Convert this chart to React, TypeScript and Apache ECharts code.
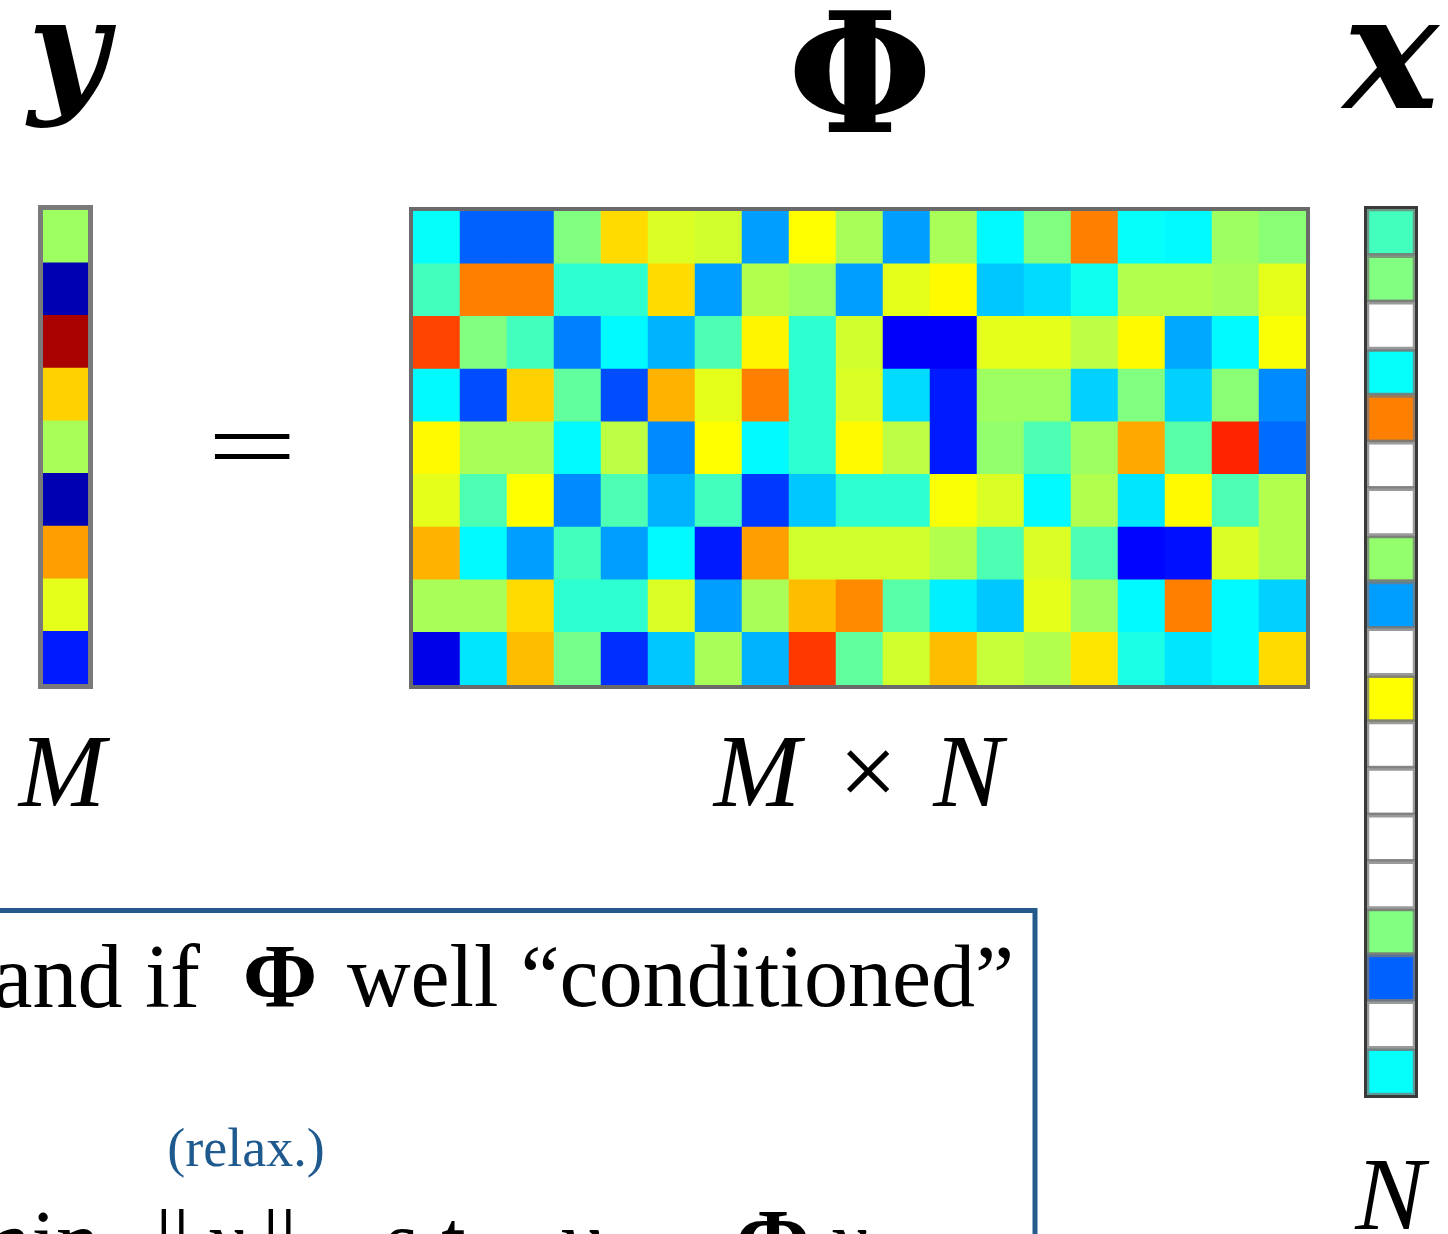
import React, { useEffect, useRef } from "react";
import * as echarts from "echarts";

// Jet colour map stops (value 0 -> 1)
const jetStops = ["#00008F", "#0000FF", "#0080FF", "#00FFFF", "#80FF80", "#FFFF00", "#FF8000", "#FF0000", "#800000"];

// measurement vector y (M = 9)
const yValues = [0.53, 0.04, 0.96, 0.67, 0.54, 0.04, 0.72, 0.6, 0.15];

// sensing matrix Phi (M x N = 9 x 19), row by row
const phiRow0 = [0.38, 0.22, 0.22, 0.5, 0.66, 0.59, 0.58, 0.28, 0.625, 0.54, 0.28, 0.54, 0.37, 0.5, 0.75, 0.38, 0.37, 0.53, 0.51];
const phiRow1 = [0.44, 0.75, 0.75, 0.42, 0.42, 0.66, 0.28, 0.55, 0.53, 0.28, 0.6, 0.63, 0.32, 0.34, 0.39, 0.55, 0.55, 0.54, 0.6];
const phiRow2 = [0.81, 0.5, 0.44, 0.25, 0.37, 0.3, 0.45, 0.635, 0.42, 0.58, 0.12, 0.12, 0.6, 0.6, 0.56, 0.63, 0.29, 0.37, 0.62];
const phiRow3 = [0.37, 0.2, 0.67, 0.47, 0.2, 0.7, 0.6, 0.75, 0.42, 0.59, 0.34, 0.15, 0.53, 0.53, 0.33, 0.5, 0.33, 0.51, 0.26];
const phiRow4 = [0.63, 0.54, 0.54, 0.37, 0.56, 0.26, 0.625, 0.37, 0.42, 0.63, 0.56, 0.15, 0.52, 0.45, 0.53, 0.71, 0.46, 0.84, 0.23];
const phiRow5 = [0.6, 0.45, 0.625, 0.26, 0.45, 0.3, 0.44, 0.18, 0.32, 0.42, 0.42, 0.62, 0.59, 0.37, 0.55, 0.35, 0.63, 0.45, 0.55];
const phiRow6 = [0.7, 0.37, 0.28, 0.44, 0.28, 0.37, 0.15, 0.72, 0.58, 0.58, 0.58, 0.55, 0.45, 0.59, 0.45, 0.13, 0.14, 0.59, 0.55];
const phiRow7 = [0.54, 0.54, 0.66, 0.42, 0.42, 0.59, 0.28, 0.54, 0.69, 0.74, 0.46, 0.36, 0.32, 0.6, 0.53, 0.37, 0.75, 0.37, 0.33];
const phiRow8 = [0.1, 0.35, 0.69, 0.49, 0.17, 0.32, 0.54, 0.3, 0.82, 0.47, 0.58, 0.69, 0.57, 0.55, 0.65, 0.4, 0.35, 0.37, 0.66];
const phiRows = [phiRow0, phiRow1, phiRow2, phiRow3, phiRow4, phiRow5, phiRow6, phiRow7, phiRow8];

// sparse signal x (N = 19), null = zero entry (drawn white)
const xValues = [0.44, 0.5, null, 0.38, 0.75, null, null, 0.52, 0.28, null, 0.625, null, null, null, null, 0.5, 0.22, null, 0.38];

const idx = (n: number) => Array.from({ length: n }, (_, i) => String(i));

function txt(text: string, x: number, y: number, o: any = {}) {
  const el: any = {
    type: "text",
    x,
    y,
    z: 200,
    style: {
      text,
      fill: o.fill || "#000",
      fontSize: o.size || 88,
      fontFamily: o.family || "Liberation Serif",
      fontWeight: o.weight || "normal",
      fontStyle: o.style || "normal",
      align: o.align || "center",
      textAlign: o.align || "center",
      verticalAlign: "middle",
      textVerticalAlign: "middle",
    },
  };
  if (o.scaleX) el.scaleX = o.scaleX;
  if (o.scaleY) el.scaleY = o.scaleY;
  return el;
}

export default function App() {
  const ref = useRef<HTMLDivElement>(null);
  useEffect(() => {
    document.body.style.margin = "0";
    const chart = echarts.init(ref.current!, null, { renderer: "svg" });
    const yData = yValues.map((v, r) => [0, r, v]);
    const phiData = phiRows.flatMap((row, r) => row.map((v, c) => [c, r, v]));
    const xData: any[] = [];
    const xZeroData: any[] = [];
    xValues.forEach((v, r) => {
      if (v === null) xZeroData.push([0, r, 0]);
      else xData.push([0, r, v]);
    });

    const hiddenCat = (gridIndex: number, n: number, inverse = false) => ({
      type: "category",
      gridIndex,
      data: idx(n),
      show: false,
      inverse,
    });

    const xCellBorder = { borderWidth: 5, borderColor: "rgba(120,120,120,0.75)" };

    chart.setOption({
      animation: false,
      backgroundColor: "#ffffff",
      grid: [
        { left: 43, top: 210, width: 45, height: 474 },
        { left: 413, top: 211, width: 893, height: 474 },
        { left: 1367, top: 209, width: 48, height: 886 },
      ],
      xAxis: [hiddenCat(0, 1), hiddenCat(1, 19), hiddenCat(2, 1)],
      yAxis: [hiddenCat(0, 9, true), hiddenCat(1, 9, true), hiddenCat(2, 19, true)],
      visualMap: [
        {
          show: false,
          type: "continuous",
          min: 0,
          max: 1,
          seriesIndex: [0, 1, 2],
          inRange: { color: jetStops },
        },
        {
          show: false,
          type: "continuous",
          min: 0,
          max: 1,
          seriesIndex: 3,
          inRange: { color: ["#ffffff", "#ffffff"] },
        },
      ],
      series: [
        {
          type: "heatmap",
          xAxisIndex: 0,
          yAxisIndex: 0,
          data: yData,
          itemStyle: { borderWidth: 0 },
          emphasis: { disabled: true },
        },
        {
          type: "heatmap",
          xAxisIndex: 1,
          yAxisIndex: 1,
          data: phiData,
          itemStyle: { borderWidth: 0 },
          emphasis: { disabled: true },
        },
        {
          type: "heatmap",
          xAxisIndex: 2,
          yAxisIndex: 2,
          data: xData,
          itemStyle: xCellBorder,
          emphasis: { disabled: true },
        },
        {
          type: "heatmap",
          xAxisIndex: 2,
          yAxisIndex: 2,
          data: xZeroData,
          itemStyle: xCellBorder,
          emphasis: { disabled: true },
        },
      ],
      graphic: [
        // frames
        { type: "rect", z: 150, shape: { x: 40.5, y: 207.5, width: 50, height: 479 }, style: { fill: "none", stroke: "#7a7a7a", lineWidth: 5 } },
        { type: "rect", z: 150, shape: { x: 411, y: 209, width: 897, height: 478 }, style: { fill: "none", stroke: "#6a6a6a", lineWidth: 4 } },
        { type: "rect", z: 150, shape: { x: 1365.5, y: 207.5, width: 51, height: 889 }, style: { fill: "none", stroke: "#3a3a3a", lineWidth: 3 } },
        // headings
        txt("y", 68, 48, { size: 138, family: "DejaVu Serif", weight: "bold", style: "italic" }),
        txt("Φ", 860, 73, { size: 166, family: "DejaVu Serif", weight: "bold" }),
        txt("x", 1391, 52, { size: 160, family: "DejaVu Serif", weight: "bold", style: "italic" }),
        txt("=", 252, 446, { size: 100, scaleX: 1.6 }),
        // dimension labels
        txt("M", 62, 770, { size: 104, style: "italic" }),
        txt("M", 757, 770, { size: 104, style: "italic" }),
        txt("×", 868, 770, { size: 104 }),
        txt("N", 968, 770, { size: 104, style: "italic" }),
        txt("N", 1390, 1193, { size: 104, style: "italic" }),
        // bottom box
        { type: "rect", z: 150, shape: { x: -20, y: 910.5, width: 1055, height: 500 }, style: { fill: "none", stroke: "#245b8c", lineWidth: 5 } },
        txt("and if", 200, 976, { size: 90, align: "right" }),
        txt("Φ", 280, 976, { size: 90, weight: "bold" }),
        txt("well “conditioned”", 347, 976, { size: 88, align: "left" }),
        txt("(relax.)", 246, 1148, { size: 54, fill: "#1f5a8f" }),
        txt("min", 100, 1241, { size: 88, align: "right" }),
        txt("||", 155, 1241, { size: 88, align: "left" }),
        txt("x", 205, 1241, { size: 88, align: "left", style: "italic" }),
        txt("||₁", 262, 1241, { size: 88, align: "left" }),
        txt("s.t.", 385, 1241, { size: 88, align: "left" }),
        txt("y", 560, 1241, { size: 88, align: "left", style: "italic" }),
        txt("=", 670, 1245, { size: 88 }),
        txt("Φ", 773, 1241, { size: 90, weight: "bold" }),
        txt("x", 828, 1241, { size: 88, align: "left", style: "italic" }),
      ],
    });
    return () => chart.dispose();
  }, []);
  return <div ref={ref} style={{ width: 1448, height: 1234 }} />;
}
